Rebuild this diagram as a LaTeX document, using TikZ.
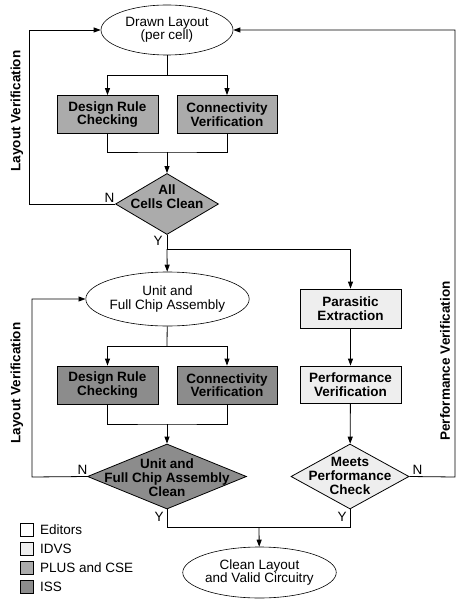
\documentclass[tikz,border=0pt]{standalone}
\usepackage{fontspec}
\setmainfont{Liberation Sans}
\usetikzlibrary{shapes.geometric,arrows.meta}
\definecolor{cIDVS}{HTML}{EEEEEE}
\definecolor{cPLUS}{HTML}{ABABAB}
\definecolor{cISS}{HTML}{8C8C8C}
\tikzset{
  txt/.style={font=\fontsize{13.5}{14}\selectfont, inner sep=0, align=center},
  btxt/.style={font=\bfseries\fontsize{13.5}{14}\selectfont, inner sep=0, align=center},
  proc/.style={draw, line width=0.8pt, minimum width=101, minimum height=38, inner sep=0, align=center, font=\bfseries\fontsize{13.5}{13.5}\selectfont},
  term/.style={ellipse, draw, line width=0.6pt, fill=white, minimum width=133, minimum height=51, inner sep=0, align=center, font=\fontsize{13.5}{13.5}\selectfont},
  dec/.style={diamond, draw, line width=0.8pt, inner sep=0},
  arr/.style={-{Triangle[length=7pt,width=5pt]}, line width=0.8pt},
  ln/.style={line width=0.8pt},
  legbox/.style={draw, line width=0.6pt, minimum width=13, minimum height=13, inner sep=0},
  legtxt/.style={font=\fontsize{13.5}{14}\selectfont, inner sep=0, anchor=west}
}
\begin{document}
\begin{tikzpicture}[x=1pt,y=-1pt]
\useasboundingbox (0,0) rectangle (465,604);
% top section
\node[term, minimum width=132, minimum height=50] (dl) at (167,30) {Drawn Layout\\(per cell)};
\node[proc, fill=cPLUS] (drc1) at (107.5,114.5) {Design Rule\\Checking};
\node[proc, fill=cPLUS, minimum width=100] (cv1) at (227,114.5) {Connectivity\\Verification};
\node[dec, fill=cPLUS, minimum width=103, minimum height=61] (d1) at (167,204) {};
\node[btxt] (d1t) at (167,197) {All\\Cells Clean};
% middle
\node[term, minimum height=54] (ua) at (167.5,299) {Unit and\\Full Chip Assembly};
\node[proc, fill=cISS] (drc2) at (107.5,385) {Design Rule\\Checking};
\node[proc, fill=cISS, minimum width=100] (cv2) at (227,385) {Connectivity\\Verification};
\node[dec, fill=cISS, minimum width=159, minimum height=65] (d2) at (167,476.5) {};
\node[btxt] (d2t) at (167,478) {Unit and\\Full Chip Assembly\\Clean};
\node[proc, fill=cIDVS, minimum height=39] (pe) at (350.5,308.5) {Parasitic\\Extraction};
\node[proc, fill=cIDVS, minimum height=37] (pv) at (350.5,384.5) {Performance\\Verification};
\node[dec, fill=cIDVS, minimum width=118, minimum height=65] (d3) at (350,476.5) {};
\node[btxt] (d3t) at (350,476) {Meets\\Performance\\Check};
\node[term] (cl) at (259.5,572.5) {Clean Layout\\and Valid Circuitry};
% junctions
\coordinate (j1) at (167,75);
\coordinate (j2) at (167,152);
\coordinate (j3) at (167,249);
\coordinate (j4) at (167,346);
\coordinate (j5) at (167,424);
\coordinate (j6) at (259,527);
\coordinate (L1) at (29,204);
\coordinate (L2) at (32,477);
\coordinate (R1) at (455,477);
% connectors
\draw[ln] (dl) -- (j1);
\draw[arr] (j1) -| (drc1);
\draw[arr] (j1) -| (cv1);
\draw[ln] (drc1) |- (j2) -| (cv1);
\draw[arr] (j2) -- (d1);
\draw[arr] (d1.west) -- (L1) |- (dl.west);
\draw[ln] (d1.south) -- (j3);
\draw[arr] (j3) -- (ua);
\draw[arr] (j3) -| (pe);
\draw[ln] (ua) -- (j4);
\draw[arr] (j4) -| (drc2);
\draw[arr] (j4) -| (cv2);
\draw[ln] (drc2) |- (j5) -| (cv2);
\draw[arr] (j5) -- (d2);
\draw[arr] (d2.west) -- (L2) |- (ua.west);
\draw[arr] (pe) -- (pv);
\draw[arr] (pv) -- (d3);
\draw[arr] (d3.east) -- (R1) |- (dl.east);
\draw[ln] (d2.south) |- (j6);
\draw[ln] (d3.south) |- (j6);
\draw[arr] (j6) -- (cl);
% branch labels
\node[txt] (n1) at (109.5,198) {N};
\node[txt] (y1) at (158,241) {Y};
\node[txt] (n2) at (82.5,470) {N};
\node[txt] (y2) at (159,517) {Y};
\node[txt] (n3) at (417.5,470) {N};
\node[txt] (y3) at (342,517) {Y};
% side labels
\node[btxt, rotate=90] (lv1) at (17,111) {Layout Verification};
\node[btxt, rotate=90] (lv2) at (17,383) {Layout Verification};
\node[btxt, rotate=90] (pvl) at (445,361) {Performance Verification};
% legend
\node[legbox, fill=white] (lg1) at (26.5,530) {};
\node[legbox, fill=cIDVS] (lg2) at (26.5,549) {};
\node[legbox, fill=cPLUS] (lg3) at (26.5,568) {};
\node[legbox, fill=cISS] (lg4) at (26.5,587) {};
\node[legtxt] (lt1) at (40,530) {Editors};
\node[legtxt] (lt2) at (40,549) {IDVS};
\node[legtxt] (lt3) at (40,568) {PLUS and CSE};
\node[legtxt] (lt4) at (40,587) {ISS};
\end{tikzpicture}
\end{document}
